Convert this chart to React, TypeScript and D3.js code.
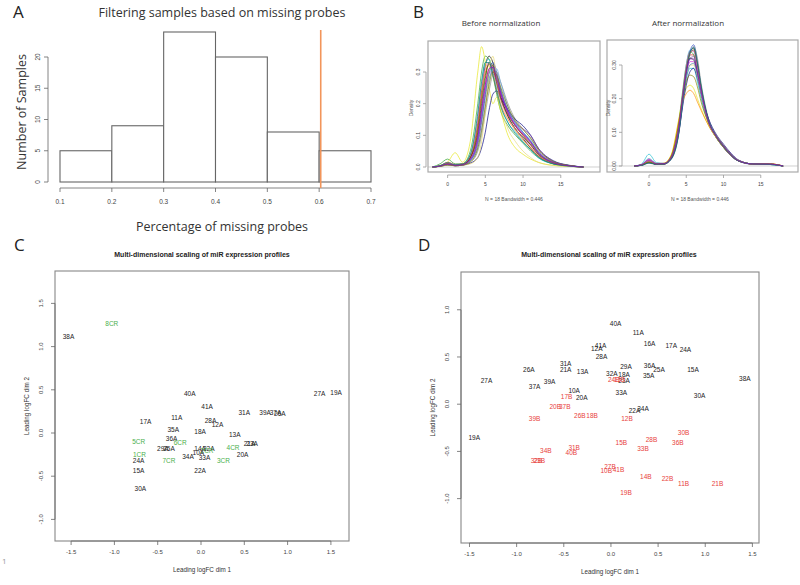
import React, { useRef, useEffect } from "react";
import * as d3 from "d3";

// ---- panel A: histogram of missing probe fraction
const binStarts = [0.1, 0.2, 0.3, 0.4, 0.5, 0.6];
const binCounts = [5, 9, 24, 20, 8, 5];
const histXTicks = [0.1, 0.2, 0.3, 0.4, 0.5, 0.6, 0.7];
const histYTicks = [0, 5, 10, 15, 20];
const cutoff = 0.603;

// ---- panel B: density curves (same x grid for every sample)
const densGrid = [-2, -1, 0, 1, 2, 3, 4, 4.5, 5, 5.5, 6, 6.5, 7, 8, 9, 10, 11, 12, 14, 16, 18];
const beforeCurves = [
  [0, .003, .010, .004, .006, .030, .140, .240, .320, .350, .330, .280, .230, .160, .120, .090, .060, .035, .010, .003, 0],
  [0, .004, .015, .008, .010, .030, .100, .180, .260, .310, .320, .290, .240, .170, .130, .100, .070, .040, .012, .004, 0],
  [0, .010, .025, .010, .010, .050, .200, .300, .350, .340, .290, .230, .180, .130, .100, .075, .050, .030, .010, .003, 0],
  [0, .003, .008, .005, .008, .020, .080, .150, .230, .300, .330, .300, .250, .180, .140, .110, .080, .045, .015, .005, 0],
  [0, .005, .012, .006, .010, .040, .160, .260, .330, .340, .300, .250, .200, .140, .110, .080, .055, .030, .010, .003, 0],
  [0, .003, .010, .005, .008, .025, .090, .170, .250, .300, .300, .270, .230, .170, .130, .105, .080, .050, .015, .004, 0],
  [0, .005, .015, .045, .015, .080, .300, .380, .330, .250, .200, .220, .180, .100, .060, .040, .025, .015, .005, .002, 0],
  [0, .002, .006, .004, .006, .015, .050, .100, .170, .240, .290, .300, .270, .200, .150, .120, .090, .055, .018, .005, 0],
  [0, .002, .006, .004, .006, .012, .030, .060, .110, .180, .230, .240, .220, .180, .150, .130, .100, .060, .020, .006, 0],
  [0, .003, .010, .005, .007, .020, .070, .140, .220, .280, .300, .280, .240, .180, .140, .120, .100, .060, .018, .005, 0],
  [0, .004, .012, .006, .010, .035, .130, .230, .300, .320, .290, .240, .200, .150, .115, .085, .060, .035, .012, .004, 0],
  [0, .003, .008, .005, .007, .020, .060, .120, .200, .270, .310, .310, .270, .190, .140, .110, .085, .050, .015, .004, 0],
  [0, .003, .010, .005, .008, .030, .110, .200, .280, .330, .320, .270, .220, .160, .120, .095, .070, .040, .012, .004, 0],
  [0, .002, .006, .004, .006, .010, .030, .080, .180, .300, .350, .280, .200, .120, .080, .050, .030, .015, .005, .002, 0],
  [0, .004, .012, .006, .009, .035, .150, .250, .310, .330, .310, .260, .215, .155, .120, .092, .066, .038, .012, .004, 0],
  [0, .003, .009, .005, .007, .022, .085, .160, .240, .295, .315, .290, .245, .175, .135, .108, .082, .048, .015, .005, 0],
  [0, .003, .010, .005, .008, .028, .120, .215, .290, .325, .310, .265, .220, .165, .128, .100, .075, .044, .013, .004, 0],
  [0, .002, .007, .004, .006, .016, .060, .115, .190, .260, .300, .290, .255, .190, .145, .118, .092, .056, .017, .005, 0],
  [0, .004, .014, .007, .010, .038, .170, .270, .330, .330, .290, .240, .195, .140, .105, .078, .055, .032, .010, .003, 0],
  [0, .003, .009, .005, .007, .024, .095, .180, .260, .310, .315, .280, .235, .172, .132, .104, .078, .046, .014, .004, 0],
];
const afterCurves = [
  [0, .003, .012, .006, .006, .025, .110, .200, .290, .340, .350, .300, .230, .130, .085, .055, .030, .015, .006, .006, 0],
  [0, .004, .018, .008, .008, .028, .120, .210, .290, .330, .330, .280, .220, .130, .090, .058, .032, .016, .006, .007, 0],
  [0, .003, .015, .006, .007, .030, .130, .220, .300, .340, .330, .280, .210, .125, .085, .055, .030, .015, .006, .005, 0],
  [0, .002, .010, .005, .006, .022, .100, .190, .280, .340, .360, .310, .235, .135, .088, .057, .031, .015, .005, .006, 0],
  [0, .006, .035, .010, .008, .030, .125, .200, .260, .290, .290, .250, .200, .130, .090, .060, .032, .016, .006, .005, 0],
  [0, .004, .020, .006, .007, .026, .115, .200, .270, .310, .310, .270, .215, .130, .090, .060, .034, .017, .006, .006, 0],
  [0, .003, .012, .006, .008, .035, .140, .200, .230, .240, .230, .200, .170, .120, .085, .055, .032, .017, .006, .007, 0],
  [0, .002, .008, .005, .006, .020, .095, .180, .270, .330, .355, .320, .245, .140, .090, .058, .033, .016, .006, .005, 0],
  [0, .002, .010, .005, .006, .022, .100, .175, .240, .280, .290, .260, .215, .140, .095, .065, .038, .018, .006, .006, 0],
  [0, .003, .014, .006, .006, .024, .105, .190, .275, .320, .325, .285, .225, .135, .092, .062, .036, .017, .006, .006, 0],
  [0, .003, .012, .006, .008, .033, .135, .190, .215, .225, .215, .190, .165, .120, .085, .056, .032, .016, .006, .007, 0],
  [0, .003, .012, .006, .007, .028, .120, .210, .300, .345, .340, .290, .220, .128, .086, .056, .030, .015, .006, .005, 0],
  [0, .003, .012, .005, .007, .027, .118, .205, .285, .320, .315, .275, .220, .132, .090, .060, .034, .016, .006, .006, 0],
  [0, .004, .016, .006, .007, .026, .112, .195, .265, .300, .300, .265, .215, .132, .092, .062, .035, .017, .006, .007, 0],
  [0, .003, .013, .006, .007, .027, .118, .205, .292, .338, .342, .295, .225, .130, .087, .056, .031, .015, .006, .006, 0],
  [0, .004, .022, .007, .007, .026, .110, .190, .260, .300, .305, .270, .218, .134, .092, .062, .035, .017, .006, .006, 0],
  [0, .003, .011, .006, .006, .024, .108, .198, .285, .335, .345, .300, .232, .133, .087, .056, .031, .015, .006, .006, 0],
  [0, .003, .012, .006, .007, .030, .128, .200, .250, .270, .265, .235, .190, .128, .090, .060, .034, .016, .006, .006, 0],
  [0, .002, .009, .005, .006, .021, .098, .186, .276, .336, .352, .306, .238, .136, .089, .057, .032, .015, .006, .005, 0],
  [0, .004, .017, .006, .007, .027, .116, .202, .278, .318, .318, .278, .220, .131, .090, .060, .034, .016, .006, .006, 0],
];
const curveColors = ["#000000", "#e41a1c", "#2ca02c", "#1f3fbf", "#17becf", "#d62ad6", "#e6e61a",
  "#888888", "#000080", "#7b3fa0", "#ff8c00", "#66a8e0", "#006400", "#e8d870",
  "#ff69b4", "#4682b4", "#8b4513", "#808000", "#008080", "#9400d3"];
const densXTicks = [0, 5, 10, 15];
const densYTicksBefore = [0, 0.1, 0.2, 0.3];
const densYTicksAfter = [0, 0.1, 0.2, 0.3];

// ---- panels C and D: MDS plots [label, dim1, dim2, group]
const mdsBefore: [string, number, number, string][] = [
  ["8CR", -1.03, 1.26, "CR"], ["38A", -1.53, 1.11, "A"], ["40A", -0.13, 0.46, "A"],
  ["27A", 1.37, 0.45, "A"], ["19A", 1.56, 0.47, "A"], ["41A", 0.07, 0.30, "A"],
  ["31A", 0.50, 0.23, "A"], ["39A", 0.74, 0.23, "A"], ["37A", 0.86, 0.24, "A"],
  ["26A", 0.91, 0.22, "A"], ["11A", -0.28, 0.18, "A"], ["17A", -0.64, 0.13, "A"],
  ["28A", 0.11, 0.14, "A"], ["12A", 0.19, 0.09, "A"], ["35A", -0.32, 0.04, "A"],
  ["18A", -0.01, 0.02, "A"], ["13A", 0.39, -0.02, "A"], ["5CR", -0.72, -0.10, "CR"],
  ["36A", -0.34, -0.07, "A"], ["6CR", -0.24, -0.11, "CR"], ["21A", 0.56, -0.12, "A"],
  ["23A", 0.59, -0.12, "A"], ["29A", -0.44, -0.18, "A"], ["25A", -0.37, -0.18, "A"],
  ["14A", -0.01, -0.18, "A"], ["32A", 0.09, -0.18, "A"], ["4CR", 0.37, -0.17, "CR"],
  ["1CR", -0.71, -0.25, "CR"], ["2CR", 0.07, -0.21, "CR"], ["10A", -0.03, -0.23, "A"],
  ["20A", 0.48, -0.25, "A"], ["24A", -0.72, -0.32, "A"], ["7CR", -0.37, -0.32, "CR"],
  ["34A", -0.15, -0.27, "A"], ["33A", 0.04, -0.29, "A"], ["3CR", 0.26, -0.32, "CR"],
  ["15A", -0.72, -0.44, "A"], ["22A", -0.01, -0.44, "A"], ["30A", -0.70, -0.65, "A"],
];
const mdsAfter: [string, number, number, string][] = [
  ["40A", 0.05, 0.85, "A"], ["11A", 0.29, 0.76, "A"], ["16A", 0.41, 0.64, "A"],
  ["17A", 0.64, 0.62, "A"], ["24A", 0.79, 0.58, "A"], ["41A", -0.11, 0.62, "A"],
  ["12A", -0.15, 0.59, "A"], ["28A", -0.10, 0.50, "A"], ["31A", -0.48, 0.43, "A"],
  ["21A", -0.48, 0.36, "A"], ["26A", -0.87, 0.37, "A"], ["13A", -0.30, 0.34, "A"],
  ["29A", 0.16, 0.40, "A"], ["36A", 0.41, 0.41, "A"], ["25A", 0.51, 0.36, "A"],
  ["15A", 0.87, 0.36, "A"], ["32A", 0.01, 0.32, "A"], ["18A", 0.14, 0.31, "A"],
  ["35A", 0.40, 0.30, "A"], ["23A", 0.14, 0.25, "A"], ["38A", 1.42, 0.27, "A"],
  ["27A", -1.32, 0.25, "A"], ["37A", -0.81, 0.19, "A"], ["39A", -0.65, 0.24, "A"],
  ["10A", -0.39, 0.14, "A"], ["20A", -0.31, 0.07, "A"], ["33A", 0.11, 0.12, "A"],
  ["30A", 0.94, 0.09, "A"], ["22A", 0.25, -0.07, "A"], ["34A", 0.34, -0.05, "A"],
  ["19A", -1.45, -0.35, "A"],
  ["24B", 0.03, 0.26, "B"], ["13B", 0.09, 0.26, "B"], ["17B", -0.47, 0.08, "B"],
  ["20B", -0.59, -0.03, "B"], ["37B", -0.49, -0.03, "B"], ["39B", -0.81, -0.15, "B"],
  ["26B", -0.33, -0.12, "B"], ["18B", -0.20, -0.12, "B"], ["12B", 0.17, -0.15, "B"],
  ["30B", 0.77, -0.30, "B"], ["28B", 0.43, -0.38, "B"], ["36B", 0.71, -0.41, "B"],
  ["15B", 0.11, -0.41, "B"], ["33B", 0.34, -0.47, "B"], ["34B", -0.69, -0.49, "B"],
  ["31B", -0.39, -0.46, "B"], ["40B", -0.42, -0.51, "B"], ["32B", -0.79, -0.60, "B"],
  ["23B", -0.76, -0.60, "B"], ["27B", -0.01, -0.66, "B"], ["41B", 0.08, -0.69, "B"],
  ["10B", -0.05, -0.70, "B"], ["14B", 0.37, -0.77, "B"], ["22B", 0.60, -0.79, "B"],
  ["11B", 0.77, -0.84, "B"], ["21B", 1.13, -0.84, "B"], ["19B", 0.16, -0.94, "B"],
];
const mdsXTicks = [-1.5, -1.0, -0.5, 0.0, 0.5, 1.0, 1.5];
const mdsYTicksC = [-1.0, -0.5, 0.0, 0.5, 1.0, 1.5];
const mdsYTicksD = [-1.0, -0.5, 0.0, 0.5, 1.0];
const groupColor: Record<string, string> = { A: "#222222", CR: "#4cb04c", B: "#e8413c" };

const SANS = "'Liberation Sans', Arial, sans-serif";
const SOFT = "'Open Sans', 'Liberation Sans', sans-serif";

type Sel = d3.Selection<SVGGElement, unknown, null, undefined>;

// R style axis: line between first and last tick, ticks outward
function axisBottom(g: Sel, x: d3.ScaleLinear<number, number>, ticks: number[], y: number, len: number,
  labelY: number, fmt: (v: number) => string, fs: number, col = "#666") {
  g.append("line").attr("x1", x(ticks[0])).attr("x2", x(ticks[ticks.length - 1]))
    .attr("y1", y).attr("y2", y).attr("stroke", col).attr("stroke-width", 0.8);
  g.selectAll(null).data(ticks).join("line")
    .attr("x1", (d) => x(d)).attr("x2", (d) => x(d)).attr("y1", y).attr("y2", y + len)
    .attr("stroke", col).attr("stroke-width", 0.8);
  g.selectAll(null).data(ticks).join("text")
    .attr("x", (d) => x(d)).attr("y", labelY).attr("text-anchor", "middle")
    .attr("font-family", SANS).attr("font-size", fs).attr("fill", "#444").text((d) => fmt(d));
}

function axisLeft(g: Sel, y: d3.ScaleLinear<number, number>, ticks: number[], x: number, len: number,
  labelX: number, fmt: (v: number) => string, fs: number, col = "#666") {
  g.append("line").attr("y1", y(ticks[0])).attr("y2", y(ticks[ticks.length - 1]))
    .attr("x1", x).attr("x2", x).attr("stroke", col).attr("stroke-width", 0.8);
  g.selectAll(null).data(ticks).join("line")
    .attr("y1", (d) => y(d)).attr("y2", (d) => y(d)).attr("x1", x).attr("x2", x - len)
    .attr("stroke", col).attr("stroke-width", 0.8);
  g.selectAll(null).data(ticks).join("text")
    .attr("transform", (d) => `translate(${labelX},${y(d)}) rotate(-90)`)
    .attr("text-anchor", "middle").attr("font-family", SANS).attr("font-size", fs).attr("fill", "#444")
    .text((d) => fmt(d));
}

function vText(g: Sel, x: number, y: number, s: string, fs: number, fam: string, fill: string) {
  g.append("text").attr("transform", `translate(${x},${y}) rotate(-90)`).attr("text-anchor", "middle")
    .attr("font-family", fam).attr("font-size", fs).attr("fill", fill).text(s);
}

const App: React.FC = () => {
  const svgRef = useRef<SVGSVGElement | null>(null);

  useEffect(() => {
    if (!svgRef.current) return;
    const svg = d3.select(svgRef.current);
    svg.selectAll("*").remove();

    const letter = (x: number, y: number, s: string) =>
      svg.append("text").attr("x", x).attr("y", y).attr("font-family", SOFT).attr("font-size", 17)
        .attr("fill", "#222").text(s);

    // ================= A
    const gA = svg.append("g");
    letter(13, 18, "A");
    const xA = d3.scaleLinear().domain([0.1, 0.7]).range([60, 371]);
    const yA = d3.scaleLinear().domain([0, 20]).range([182, 57]);
    gA.selectAll("rect").data(binCounts).join("rect")
      .attr("x", (_, i) => xA(binStarts[i]))
      .attr("y", (d) => yA(d))
      .attr("width", (_, i) => xA(binStarts[i] + 0.1) - xA(binStarts[i]))
      .attr("height", (d) => yA(0) - yA(d))
      .attr("fill", "#fff").attr("stroke", "#666").attr("stroke-width", 1.1);
    axisBottom(gA, xA, histXTicks, 188, 4, 204, (v) => v.toFixed(1), 6.5);
    axisLeft(gA, yA, histYTicks, 48, 4, 40, (v) => String(v), 6.5);
    gA.append("line").attr("x1", xA(cutoff)).attr("x2", xA(cutoff)).attr("y1", 30).attr("y2", 188)
      .attr("stroke", "#f2955a").attr("stroke-width", 1.6);
    gA.append("text").attr("x", 222).attr("y", 17).attr("text-anchor", "middle")
      .attr("font-family", SOFT).attr("font-size", 12.5).attr("fill", "#333")
      .text("Filtering samples based on missing probes");
    vText(gA, 26, 112, "Number of Samples", 12.5, SOFT, "#333");
    gA.append("text").attr("x", 222).attr("y", 231).attr("text-anchor", "middle")
      .attr("font-family", SOFT).attr("font-size", 12.5).attr("fill", "#333")
      .text("Percentage of missing probes");

    // ================= B
    letter(413, 18, "B");
    const densPanel = (box: { l: number; r: number; t: number; b: number }, xDom: [number, number],
      yRange: [number, number], curves: number[][], yTicks: number[], yFmt: (v: number) => string,
      yAxisX: number, ylabX: number, xlabX: number, title: string, titleX: number) => {
      const g = svg.append("g");
      const x = d3.scaleLinear().domain(xDom).range([box.l, box.r]);
      const y = d3.scaleLinear().domain([0, 0.3]).range(yRange);
      g.append("line").attr("x1", box.l).attr("x2", box.r).attr("y1", y(0)).attr("y2", y(0))
        .attr("stroke", "#bbb").attr("stroke-width", 0.7);
      const line = d3.line<number>().x((_, i) => x(densGrid[i])).y((d) => y(d)).curve(d3.curveMonotoneX);
      g.selectAll("path.dens").data(curves).join("path").attr("class", "dens")
        .attr("d", (d) => line(d)).attr("fill", "none")
        .attr("stroke", (_, i) => curveColors[i % curveColors.length])
        .attr("stroke-width", 0.8).attr("stroke-opacity", 0.85);
      g.append("rect").attr("x", box.l).attr("y", box.t).attr("width", box.r - box.l).attr("height", box.b - box.t)
        .attr("fill", "none").attr("stroke", "#aaa").attr("stroke-width", 1.2);
      axisBottom(g, x, densXTicks, box.b + 3, 3, 186, (v) => String(v), 5, "#999");
      axisLeft(g, y, yTicks, yAxisX, 3, yAxisX - 6, yFmt, 5, "#999");
      vText(g, ylabX, 108, "Density", 5, SANS, "#555");
      g.append("text").attr("x", xlabX).attr("y", 201).attr("text-anchor", "middle")
        .attr("font-family", SANS).attr("font-size", 5).attr("fill", "#555")
        .text("N = 18   Bandwidth = 0.446");
      g.append("text").attr("x", titleX).attr("y", 26).attr("text-anchor", "middle")
        .attr("font-family", SOFT).attr("font-size", 8).attr("fill", "#333").text(title);
    };
    densPanel({ l: 428, r: 600, t: 41, b: 172 }, [-2.6, 20.2], [167, 72], beforeCurves,
      densYTicksBefore, (v) => v.toFixed(1), 426, 413, 514, "Before normalization", 501);
    densPanel({ l: 607, r: 798, t: 40, b: 172 }, [-5.64, 20], [166, 65], afterCurves,
      densYTicksAfter, (v) => v.toFixed(2), 622, 610, 700, "After normalization", 688);

    // ================= C and D
    const mdsPanel = (box: { l: number; r: number; t: number; b: number }, xDom: [number, number],
      yDom: [number, number], pts: [string, number, number, string][], yTicks: number[], titleX: number) => {
      const g = svg.append("g");
      const x = d3.scaleLinear().domain(xDom).range([box.l, box.r]);
      const y = d3.scaleLinear().domain(yDom).range([box.b, box.t]);
      g.append("rect").attr("x", box.l).attr("y", box.t).attr("width", box.r - box.l).attr("height", box.b - box.t)
        .attr("fill", "none").attr("stroke", "#888").attr("stroke-width", 1.1);
      axisBottom(g, x, mdsXTicks, box.b, 4, box.b + 13, (v) => v.toFixed(1), 6);
      axisLeft(g, y, yTicks, box.l, 4, box.l - 12, (v) => v.toFixed(1), 6);
      g.selectAll("text.pt").data(pts).join("text").attr("class", "pt")
        .attr("x", (d) => x(d[1])).attr("y", (d) => y(d[2])).attr("dy", "0.35em")
        .attr("text-anchor", "middle").attr("font-family", SANS).attr("font-size", 6.5)
        .attr("fill", (d) => groupColor[d[3]]).text((d) => d[0]);
      g.append("text").attr("x", titleX).attr("y", 257).attr("text-anchor", "middle")
        .attr("font-family", SANS).attr("font-size", 7).attr("font-weight", "bold").attr("fill", "#222")
        .text("Multi-dimensional scaling of miR expression profiles");
      g.append("text").attr("x", (box.l + box.r) / 2).attr("y", box.b + 31).attr("text-anchor", "middle")
        .attr("font-family", SANS).attr("font-size", 6.3).attr("fill", "#333").text("Leading logFC dim 1");
      vText(g, box.l - 26, (box.t + box.b) / 2, "Leading logFC dim 2", 6.3, SANS, "#333");
    };
    letter(14, 251, "C");
    mdsPanel({ l: 55, r: 349, t: 271, b: 541 }, [-1.686, 1.709], [-1.25, 1.875], mdsBefore, mdsYTicksC, 202);
    letter(418, 251, "D");
    mdsPanel({ l: 461, r: 759, t: 272, b: 543 }, [-1.59, 1.57], [-1.47, 1.40], mdsAfter, mdsYTicksD, 609);

    svg.append("text").attr("x", 2).attr("y", 564).attr("font-family", SOFT).attr("font-size", 8)
      .attr("fill", "#999").text("1");
  }, []);

  return (
    <div style={{ position: "absolute", left: 0, top: 0 }}>
      <svg ref={svgRef} width={800} height={585} style={{ display: "block", background: "#fff" }}></svg>
    </div>
  );
};

export default App;
